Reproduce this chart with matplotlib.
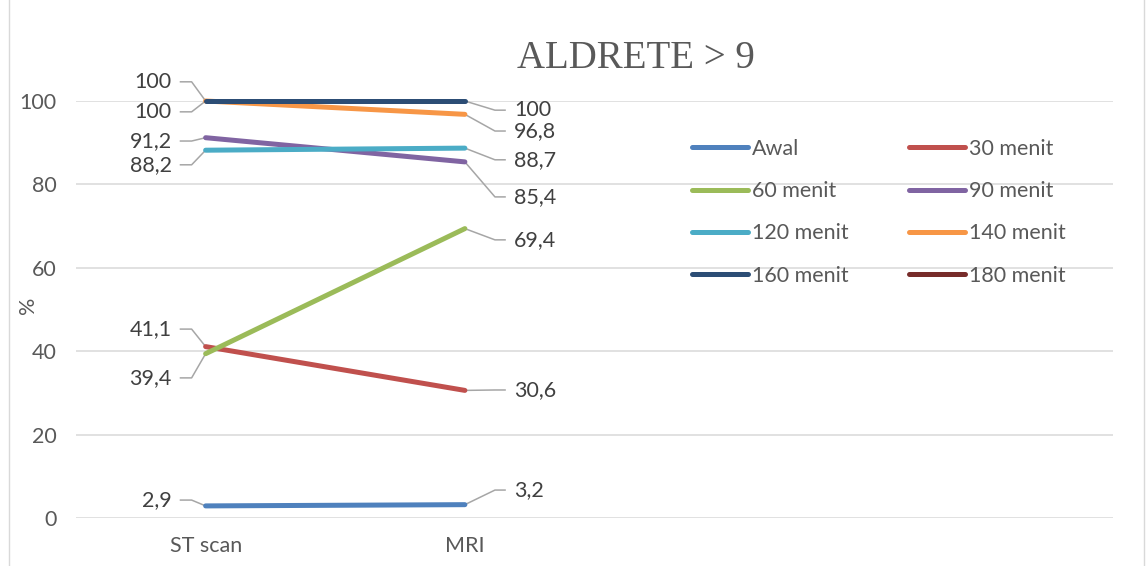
import matplotlib
matplotlib.use("Agg")
import matplotlib.pyplot as plt
from matplotlib.lines import Line2D

# data
categories = ["ST scan", "MRI", "", ""]
series = ["Awal", "30 menit", "60 menit", "90 menit",
          "120 menit", "140 menit", "160 menit", "180 menit"]
awal = [2.9, 3.2]
menit30 = [41.1, 30.6]
menit60 = [39.4, 69.4]
menit90 = [91.2, 85.4]
menit120 = [88.2, 88.7]
menit140 = [100, 96.8]
menit160 = [100, 100]
menit180 = []
values = [awal, menit30, menit60, menit90, menit120, menit140, menit160, menit180]

colors = ["#4F81BD", "#C0504D", "#9BBB59", "#8064A2",
          "#4BACC6", "#F79646", "#2C4D75", "#772C2A"]

# label vertical shifts (data units) for left / right data labels
shift_left = [1.4, 4.2, -5.8, -0.8, -3.5, -2.6, 4.6, None]
shift_right = [3.5, 0.1, -2.7, -8.4, -2.8, -4.0, -2.2, None]

FS = 15.5
plt.rcParams["font.family"] = ["Lato", "DejaVu Sans"]

fig = plt.figure(figsize=(11.46, 5.66), dpi=100)
ax = fig.add_axes([76 / 1146, 48 / 566, (1113 - 76) / 1146, 417 / 566])
ax.set_xlim(-0.5, 3.5)
ax.set_ylim(0, 100)

ax.set_yticks([0, 20, 40, 60, 80, 100])
ax.grid(axis="y", color="#D9D9D9", linewidth=1.1)
ax.set_axisbelow(True)
for s in ax.spines.values():
    s.set_visible(False)
ax.tick_params(length=0, labelsize=FS, colors="#595959")
ax.tick_params(axis="y", pad=14)
ax.tick_params(axis="x", pad=13)
ax.set_xticks(range(len(categories)))
ax.set_xticklabels(categories)
ax.set_ylabel("%", fontsize=FS, color="#595959")
ax.yaxis.set_label_coords(-(76 - 38) / 1037, 0.51)

lab_kw = dict(fontsize=FS, color="#404040", va="center")
lead_kw = dict(color="#A6A6A6", linewidth=1.1, clip_on=False, zorder=1)

for name, vals, c, sl, sr in zip(series, values, colors, shift_left, shift_right):
    if not vals:
        continue
    xs = list(range(len(vals)))
    ax.plot(xs, vals, color=c, linewidth=3.6, solid_capstyle="round",
            clip_on=False, zorder=3)
    # left label
    y0, yl = vals[0], vals[0] + sl
    ax.plot([0, -0.054, -0.097], [y0, yl, yl], **lead_kw)
    ax.text(-0.131, yl, f"{y0:g}".replace(".", ","), ha="right", **lab_kw)
    # right label
    y1, yr = vals[1], vals[1] + sr
    ax.plot([1, 1.116, 1.155], [y1, yr, yr], **lead_kw)
    ax.text(1.189, yr, f"{y1:g}".replace(".", ","), ha="left", **lab_kw)

# legend is filled row by row, like the original
order = [0, 2, 4, 6, 1, 3, 5, 7]
handles = [Line2D([0], [0], color=colors[i], linewidth=3.6,
                  solid_capstyle="round") for i in order]
labels = [series[i] for i in order]
ax.legend(handles, labels, ncol=2, frameon=False, fontsize=FS,
          loc="upper left", bbox_to_anchor=(692 / 1146, 1 - 139 / 566),
          bbox_transform=fig.transFigure, handlelength=2.6,
          handletextpad=0.2, columnspacing=2.8, labelspacing=1.03,
          labelcolor="#595959", borderaxespad=0, borderpad=0)

fig.text(636 / 1146, 1 - 58 / 566, "ALDRETE > 9", family="Liberation Serif",
         fontsize=28, color="#595959", ha="center", va="center")

# chart frame
fig.add_artist(Line2D([9 / 1146, 9 / 1146], [0, 1], color="#D9D9D9",
                      linewidth=1.0, transform=fig.transFigure))
fig.add_artist(Line2D([1144 / 1146, 1144 / 1146], [0, 1], color="#D9D9D9",
                      linewidth=1.0, transform=fig.transFigure))

fig.savefig("out.png", dpi=100)
